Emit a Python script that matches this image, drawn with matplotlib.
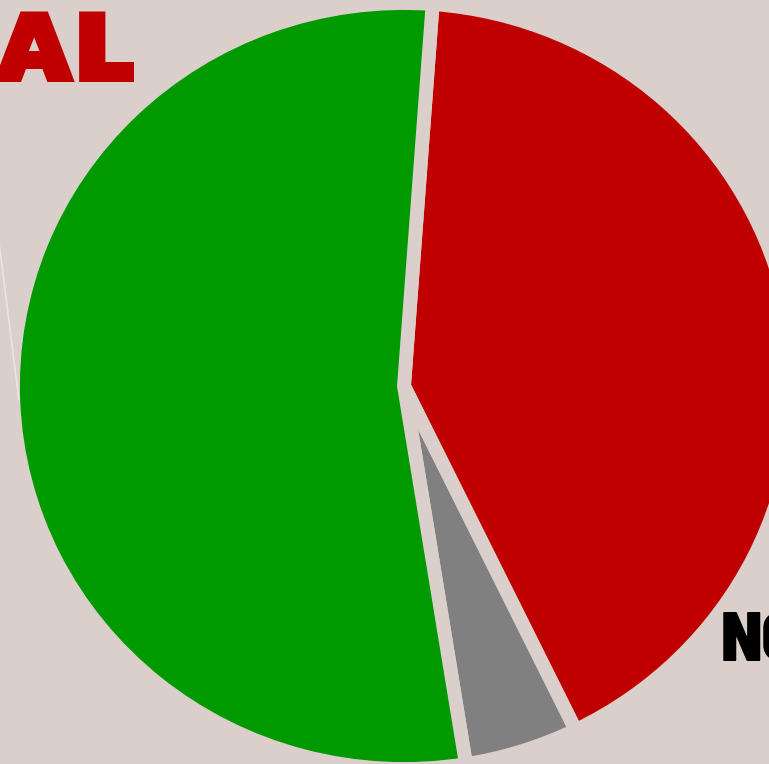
import numpy as np
import matplotlib
matplotlib.use("Agg")
import matplotlib.pyplot as plt
from matplotlib import font_manager as fm
from matplotlib.textpath import TextPath

# slice data (clockwise from the top)
labels = ["red", "gray", "green"]
values = [41.6, 4.7, 53.7]
colors = ["#c00000", "#808080", "#009900"]
bg = "#dacfca"

W, H = 769, 764
fig = plt.figure(figsize=(W / 100, H / 100), dpi=100)
fig.patch.set_facecolor(bg)
ax = fig.add_axes([0, 0, 1, 1])
ax.set_facecolor(bg)

wedges, _ = ax.pie(values, colors=colors, startangle=85.8, counterclock=False,
                   wedgeprops=dict(edgecolor=bg, linewidth=10))
ax.set_aspect("auto")
ax.set_xlim(-1.0332, 0.9335)
ax.set_ylim(-0.9869, 1.0078)
ax.axis("off")

# leader line from the green slice
g = wedges[2]
mid = np.deg2rad((g.theta1 + g.theta2) / 2.0)
ax.annotate("", xy=(0.985 * np.cos(mid), 0.985 * np.sin(mid)), xytext=(-1.082, 0.747),
            arrowprops=dict(arrowstyle="-", color="#ebe5e2", lw=1.2),
            annotation_clip=False)


def place(s, fp, cap_px, ink_x, base_y, align, color):
    # size the text by its cap height and put its ink edge on ink_x (pixels)
    p = TextPath((0, 0), s, size=100, prop=fp)
    b = p.get_extents()
    capr = TextPath((0, 0), s[0], size=100, prop=fp).get_extents().height / 100.0
    px = cap_px / capr
    if align == "right":
        x0 = ink_x - b.x1 * px / 100.0
    else:
        x0 = ink_x - b.x0 * px / 100.0
    fig.text(x0 / W, 1 - base_y / H, s, fontproperties=fp, fontsize=px * 0.72,
             color=color, ha="left", va="baseline")


fp_al = fm.FontProperties(fname=fm.findfont(fm.FontProperties(family="Kanit", weight=900)))
fp_no = fm.FontProperties(fname=fm.findfont(fm.FontProperties(family="Barlow Semi Condensed",
                                                                weight=900, stretch="condensed")))
place("AL", fp_al, 70, 135, 82, "right", "#c00000")
place("NO", fp_no, 49, 723, 662, "left", "black")

fig.savefig("out.png", dpi=100, facecolor=bg)
